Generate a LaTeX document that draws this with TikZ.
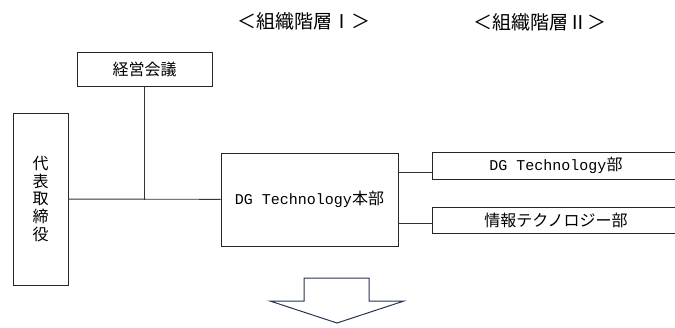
\documentclass[tikz,border=0pt]{standalone}
\usepackage{fontspec}
\setmainfont{Noto Sans CJK JP}
\newfontfamily\latinmono{Liberation Mono}
\usetikzlibrary{positioning}
\definecolor{arrownavy}{RGB}{36,52,84}

\begin{document}
\begin{tikzpicture}[x=1pt, y=-1pt]
    % --- Styles ---
    \tikzstyle{orgbox}=[draw=black!85, line width=0.9pt, inner sep=0pt, font=\fontsize{16}{17.6}\selectfont]
    \tikzstyle{link}=[draw=black!80, line width=0.9pt]
    \tikzstyle{level_title}=[font=\fontsize{19}{21}\selectfont]
    \tikzstyle{down_arrow}=[draw=arrownavy, line width=1pt, line join=miter]

    \useasboundingbox (0,0) rectangle (675,327);

    % --- 1. Level titles ---
    \node[level_title] (title1) at (303.5,21) {＜組織階層Ⅰ＞};
    \node[level_title] (title2) at (540,22) {＜組織階層Ⅱ＞};

    % --- 2. Boxes ---
    \node[orgbox, minimum width=55, minimum height=172, align=center] (daihyo) at (40.5,199) {代\\表\\取\\締\\役};
    \node[orgbox, minimum width=135, minimum height=34] (kaigi) at (144.5,69) {経営会議};
    \node[orgbox, minimum width=177, minimum height=93] (honbu) at (309.5,199.5) {{\latinmono\fontsize{15}{17}\selectfont DG Technology}本部};

    % Level II: right edges run off the page
    \node[orgbox, minimum width=248, minimum height=27] (dgtech) at (556,165.5) {{\latinmono\fontsize{15}{17}\selectfont DG Technology}部};
    \node[orgbox, minimum width=248, minimum height=26] (joho) at (556,220) {情報テクノロジー部};

    % --- 3. Connectors ---
    \draw[link] (daihyo) -- (honbu);
    \draw[link] (kaigi.south) -- (kaigi.south |- honbu.west);

    \coordinate (tap1) at (dgtech.west |- 0,172);
    \coordinate (tap2) at (joho.west |- 0,223);
    \draw[link] (honbu.east |- tap1) -- (tap1);
    \draw[link] (honbu.east |- tap2) -- (tap2);

    % --- 4. Down arrow ---
    \draw[down_arrow] (304,278) -- (369,278) -- (369,301) -- (404,301) -- (337,323)
        -- (270,301) -- (304,301) -- cycle;
\end{tikzpicture}
\end{document}
